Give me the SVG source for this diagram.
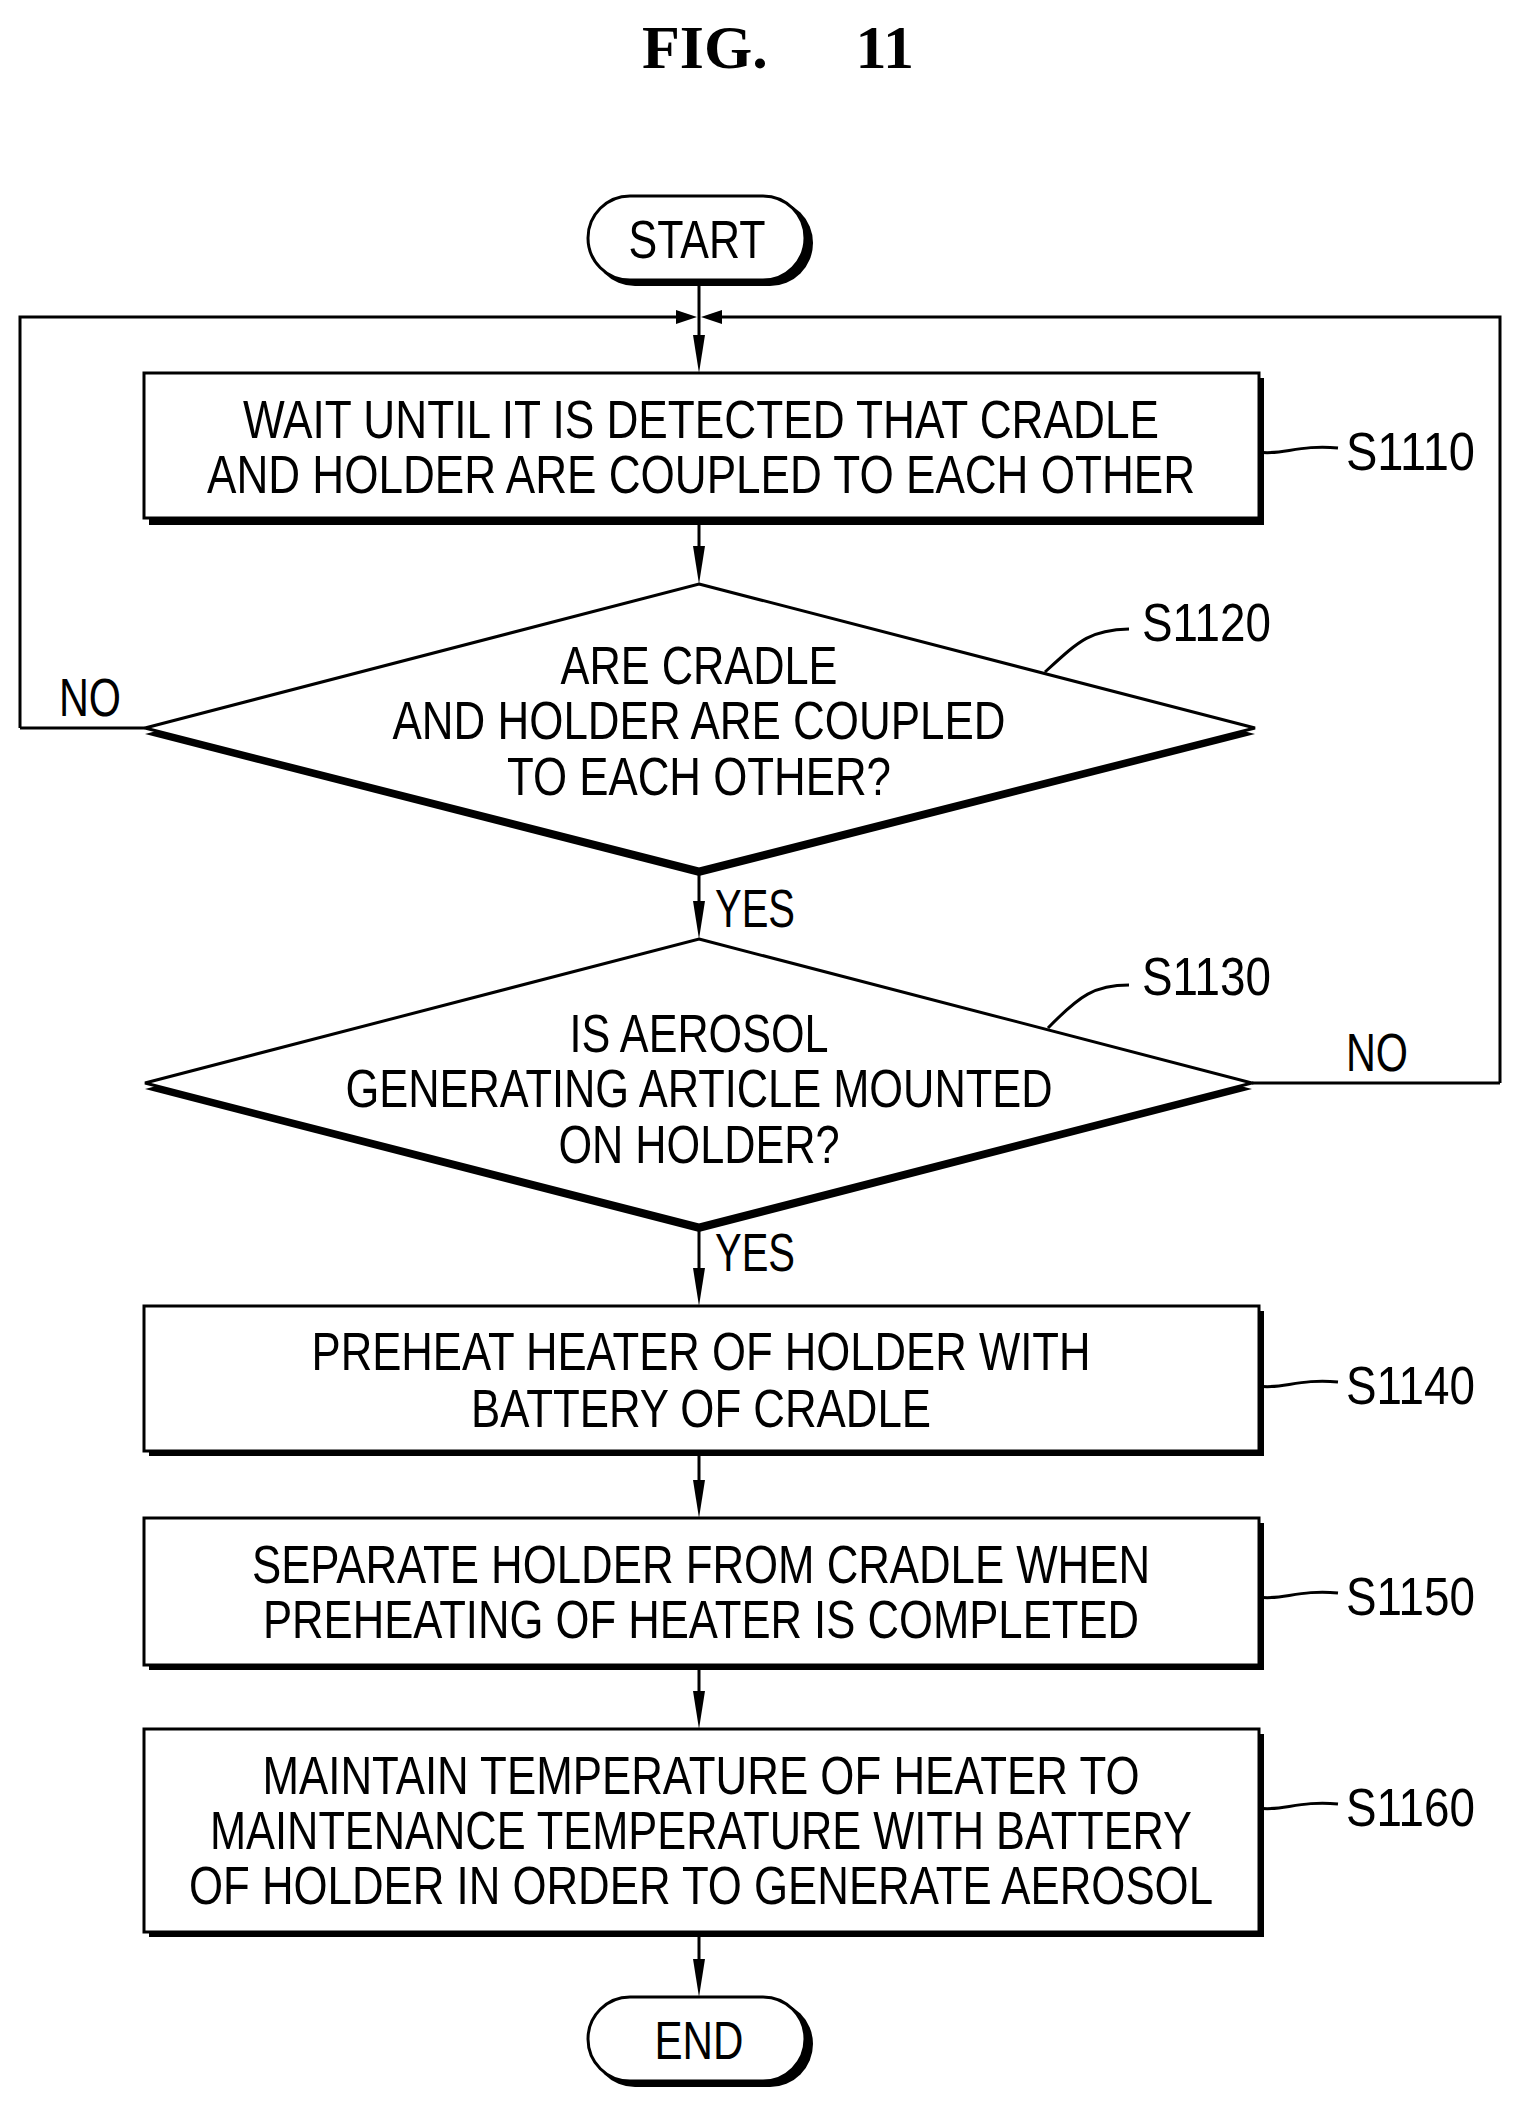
<svg xmlns="http://www.w3.org/2000/svg" width="1521" height="2106" viewBox="0 0 1521 2106">
<style>
.t{font-family:"Liberation Sans",Arial,sans-serif;font-size:54px;fill:#000;text-anchor:middle}
.l{font-family:"Liberation Sans",Arial,sans-serif;font-size:54px;fill:#000}
.s{fill:none;stroke:#000;stroke-width:3}
.b{fill:#fff;stroke:#000;stroke-width:3}
.sh{fill:#000}
.ah{fill:#000}
</style>
<rect width="1521" height="2106" fill="#fff"/>
<text x="642" y="68" font-family="Liberation Serif,serif" font-weight="bold" font-size="62">FIG.</text>
<text x="914" y="68" font-family="Liberation Serif,serif" font-weight="bold" font-size="62" text-anchor="end">11</text>
<g id="connectors">
<g class="s">
<path d="M699,282 V355"/>
<path d="M20,728 H145 M20,728 V317 H690"/>
<path d="M1500,1083 H1252 M1500,1083 V317 H708"/>
<path d="M699,520 V566"/>
<path d="M699,869 V921"/>
<path d="M699,1225 V1288"/>
<path d="M699,1451 V1500"/>
<path d="M699,1665 V1711"/>
<path d="M699,1932 V1979"/>
<path d="M1259,452 C1280,456 1300,444 1338,448"/>
<path d="M1045,672 C1080,640 1090,630 1129,629"/>
<path d="M1048,1028 C1080,995 1095,985 1129,985"/>
<path d="M1259,1386 C1280,1390 1300,1378 1338,1382"/>
<path d="M1259,1597 C1280,1601 1300,1589 1338,1593"/>
<path d="M1259,1808 C1280,1812 1300,1800 1338,1804"/>
</g>
<path class="ah" d="M697,317 L676,310 L676,324 Z M701,317 L722,310 L722,324 Z"/>
<path class="ah" d="M693,335 L705,335 L699,373 Z"/>
<path class="ah" d="M693,546 L705,546 L699,584 Z"/>
<path class="ah" d="M693,901 L705,901 L699,939 Z"/>
<path class="ah" d="M693,1268 L705,1268 L699,1306 Z"/>
<path class="ah" d="M693,1480 L705,1480 L699,1518 Z"/>
<path class="ah" d="M693,1691 L705,1691 L699,1729 Z"/>
<path class="ah" d="M693,1959 L705,1959 L699,1997 Z"/>
</g>
<g id="start"><rect x="592" y="200" width="221" height="86" rx="43" class="sh"/><rect x="588" y="196" width="217" height="84" rx="42" class="b"/><text class="t" x="697" y="258" textLength="137" lengthAdjust="spacingAndGlyphs">START</text></g>
<g id="s1110"><rect x="149" y="378" width="1115" height="147" class="sh"/><rect x="144" y="373" width="1115" height="145" class="b"/>
<text class="t" x="701" y="438" textLength="916" lengthAdjust="spacingAndGlyphs">WAIT UNTIL IT IS DETECTED THAT CRADLE</text>
<text class="t" x="701" y="493" textLength="988" lengthAdjust="spacingAndGlyphs">AND HOLDER ARE COUPLED TO EACH OTHER</text>
<text class="l" x="1346" y="470" textLength="129" lengthAdjust="spacingAndGlyphs">S1110</text></g>
<g id="s1120"><polygon points="699,590 1255,734 699,876 145,734" class="sh"/><polygon points="699,584 1255,728 699,869 145,728" class="b"/>
<text class="t" x="699" y="684" textLength="277" lengthAdjust="spacingAndGlyphs">ARE CRADLE</text>
<text class="t" x="699" y="739" textLength="613" lengthAdjust="spacingAndGlyphs">AND HOLDER ARE COUPLED</text>
<text class="t" x="699" y="795" textLength="384" lengthAdjust="spacingAndGlyphs">TO EACH OTHER?</text>
<text class="l" x="1142" y="641" textLength="129" lengthAdjust="spacingAndGlyphs">S1120</text>
<text class="l" x="59" y="716" textLength="62" lengthAdjust="spacingAndGlyphs">NO</text>
<text class="l" x="715" y="927" textLength="80" lengthAdjust="spacingAndGlyphs">YES</text></g>
<g id="s1130"><polygon points="699,945 1252,1089 699,1232 145,1089" class="sh"/><polygon points="699,939 1252,1083 699,1225 145,1083" class="b"/>
<text class="t" x="699" y="1052" textLength="259" lengthAdjust="spacingAndGlyphs">IS AEROSOL</text>
<text class="t" x="699" y="1107" textLength="707" lengthAdjust="spacingAndGlyphs">GENERATING ARTICLE MOUNTED</text>
<text class="t" x="699" y="1163" textLength="281" lengthAdjust="spacingAndGlyphs">ON HOLDER?</text>
<text class="l" x="1142" y="995" textLength="129" lengthAdjust="spacingAndGlyphs">S1130</text>
<text class="l" x="1346" y="1071" textLength="62" lengthAdjust="spacingAndGlyphs">NO</text>
<text class="l" x="715" y="1271" textLength="80" lengthAdjust="spacingAndGlyphs">YES</text></g>
<g id="s1140"><rect x="149" y="1311" width="1115" height="145" class="sh"/><rect x="144" y="1306" width="1115" height="145" class="b"/>
<text class="t" x="701" y="1370" textLength="779" lengthAdjust="spacingAndGlyphs">PREHEAT HEATER OF HOLDER WITH</text>
<text class="t" x="701" y="1427" textLength="460" lengthAdjust="spacingAndGlyphs">BATTERY OF CRADLE</text>
<text class="l" x="1346" y="1404" textLength="129" lengthAdjust="spacingAndGlyphs">S1140</text></g>
<g id="s1150"><rect x="149" y="1523" width="1115" height="147" class="sh"/><rect x="144" y="1518" width="1115" height="147" class="b"/>
<text class="t" x="701" y="1583" textLength="898" lengthAdjust="spacingAndGlyphs">SEPARATE HOLDER FROM CRADLE WHEN</text>
<text class="t" x="701" y="1638" textLength="876" lengthAdjust="spacingAndGlyphs">PREHEATING OF HEATER IS COMPLETED</text>
<text class="l" x="1346" y="1615" textLength="129" lengthAdjust="spacingAndGlyphs">S1150</text></g>
<g id="s1160"><rect x="149" y="1734" width="1115" height="203" class="sh"/><rect x="144" y="1729" width="1115" height="203" class="b"/>
<text class="t" x="701" y="1794" textLength="877" lengthAdjust="spacingAndGlyphs">MAINTAIN TEMPERATURE OF HEATER TO</text>
<text class="t" x="701" y="1849" textLength="982" lengthAdjust="spacingAndGlyphs">MAINTENANCE TEMPERATURE WITH BATTERY</text>
<text class="t" x="701" y="1904" textLength="1024" lengthAdjust="spacingAndGlyphs">OF HOLDER IN ORDER TO GENERATE AEROSOL</text>
<text class="l" x="1346" y="1826" textLength="129" lengthAdjust="spacingAndGlyphs">S1160</text></g>
<g id="end"><rect x="592" y="2001" width="221" height="86" rx="43" class="sh"/><rect x="588" y="1997" width="217" height="84" rx="42" class="b"/><text class="t" x="699" y="2059" textLength="89" lengthAdjust="spacingAndGlyphs">END</text></g>
</svg>
